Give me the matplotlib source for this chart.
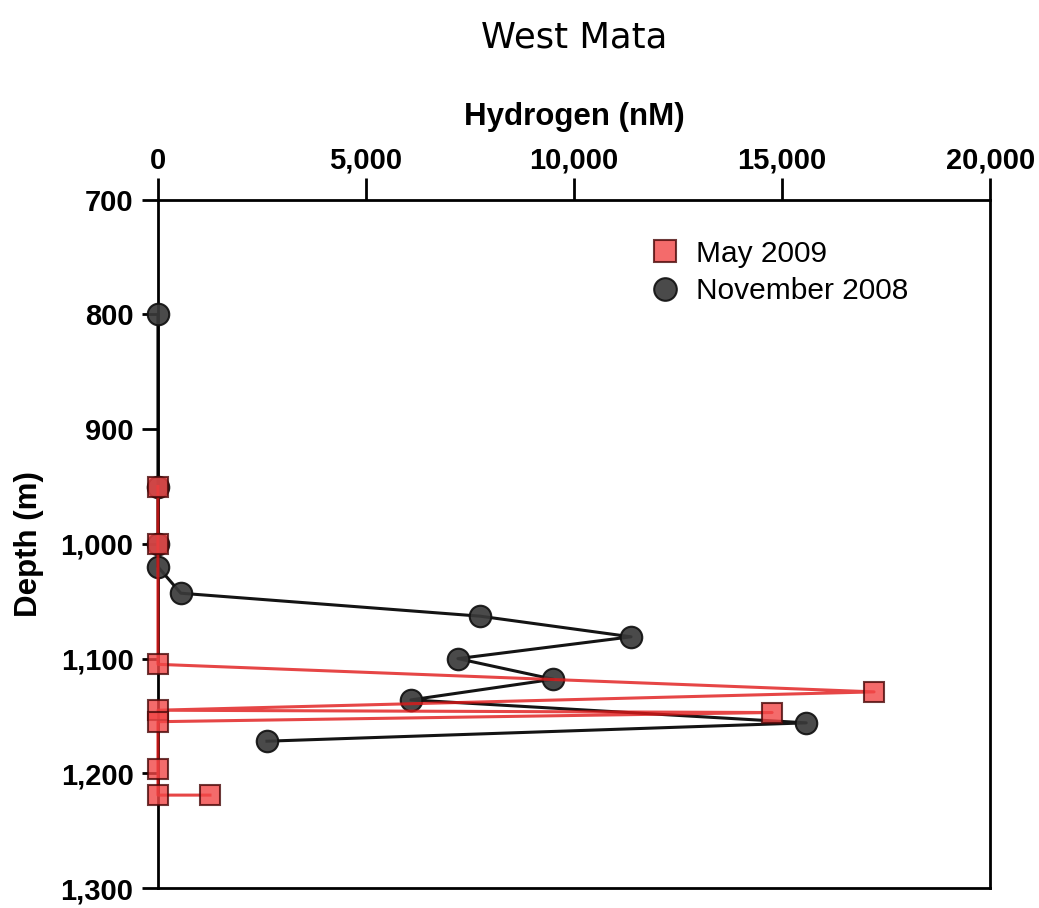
import matplotlib
matplotlib.use("Agg")
import matplotlib.pyplot as plt
from matplotlib.ticker import FuncFormatter

# November 2008 (circles)
nov_depth = [800, 950, 1000, 1020, 1043, 1063, 1081, 1100, 1118, 1136, 1156, 1172]
nov_h2 = [0, 0, 0, 0, 550, 7740, 11370, 7210, 9500, 6080, 15580, 2620]

# May 2009 (squares)
may_depth = [950, 1000, 1105, 1129, 1145, 1147, 1155, 1196, 1219, 1219]
may_h2 = [0, 0, 0, 17210, 0, 14760, 0, 0, 0, 1250]

xticks = [0, 5000, 10000, 15000, 20000]
yticks = [700, 800, 900, 1000, 1100, 1200, 1300]

plt.rcParams['font.family'] = ['Liberation Sans', 'DejaVu Sans']

fig = plt.figure(figsize=(10.39, 9.08), dpi=100)
ax = fig.add_axes([0.152, 0.022, 0.801, 0.758])

ax.plot(nov_h2, nov_depth, color='black', lw=2.2, marker='o', ms=15.5,
        mfc='#3a3a3a', mec='#111111', mew=1.5, alpha=0.92, label='November 2008', zorder=3, clip_on=False)
ax.plot(may_h2, may_depth, color='#e01818', lw=2.2, marker='s', ms=14.5,
        mfc='#f24646', mec='#4a0808', mew=1.5, alpha=0.8, label='May 2009', zorder=4, clip_on=False)

ax.set_xlim(0, 20000)
ax.set_ylim(1300, 700)
ax.set_xticks(xticks)
ax.set_yticks(yticks)
fmt = FuncFormatter(lambda v, p: f"{int(v):,}")
ax.xaxis.set_major_formatter(fmt)
ax.yaxis.set_major_formatter(fmt)
ax.xaxis.tick_top()
ax.xaxis.set_label_position('top')
ax.tick_params(axis='x', direction='out', length=16, width=2, labelsize=21, pad=2)
ax.tick_params(axis='y', direction='out', length=11.5, width=2, labelsize=21, pad=6)
for lab in ax.get_xticklabels() + ax.get_yticklabels():
    lab.set_fontweight('bold')
for s in ax.spines.values():
    s.set_linewidth(2)

ax.set_xlabel('Hydrogen (nM)', fontsize=22.5, fontweight='bold', labelpad=16)
ax.set_ylabel('Depth (m)', fontsize=22.5, fontweight='bold', labelpad=12)

h, l = ax.get_legend_handles_labels()
leg = ax.legend(h[::-1], l[::-1], loc='upper left', bbox_to_anchor=(0.559, 0.981), frameon=False,
                fontsize=21.5, handletextpad=0.55, labelspacing=0.32, handlelength=1.0,
                markerscale=1.05)
for lh in leg.legend_handles:
    lh.set_linestyle('None')

fig.text(574 / 1039, 1 - 37 / 908, 'West Mata', ha='center', va='center', fontsize=25.5,
         family='DejaVu Sans')

fig.savefig('out.png', dpi=100)
